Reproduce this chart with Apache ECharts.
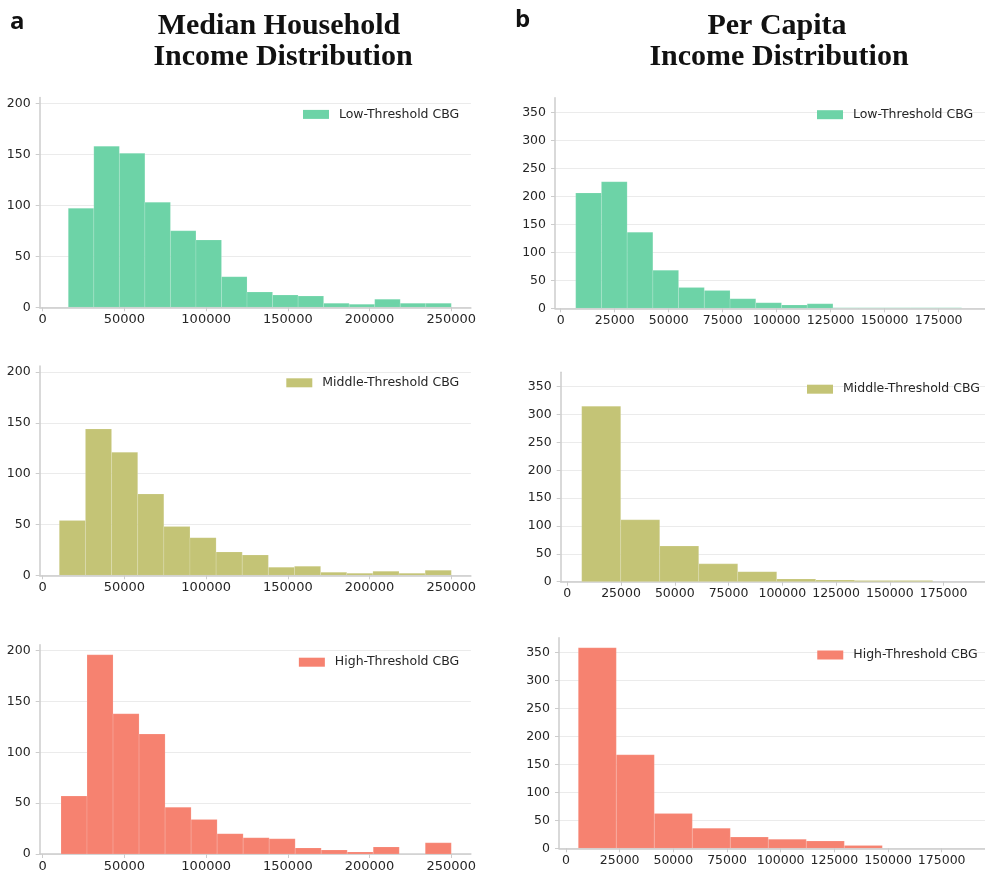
<!DOCTYPE html>
<html>
<head>
<meta charset="utf-8">
<script src="https://cdn.jsdelivr.net/npm/echarts@6/dist/echarts.min.js"></script>
<style>
html,body{margin:0;padding:0;background:#fff;}
#chart{width:985px;height:880px;}
</style>
</head>
<body>
<div id="chart"></div>
<script>
// ---- data ----
const seriesNames = ['Low-Threshold CBG', 'Middle-Threshold CBG', 'High-Threshold CBG'];
const seriesColors = ['#6dd3a7', '#c4c476', '#f68270'];

// Median household income histograms (bin start, bin width, counts)
const mhiLowStart = 15650,  mhiLowWidth = 15623;
const mhiLowCounts = [97, 158, 151, 103, 75, 66, 30, 15, 12, 11, 4, 3, 8, 4, 4];
const mhiMidStart = 10150,  mhiMidWidth = 15990;
const mhiMidCounts = [54, 144, 121, 80, 48, 37, 23, 20, 8, 9, 3, 2, 4, 2, 5];
const mhiHighStart = 11190, mhiHighWidth = 15920;
const mhiHighCounts = [57, 196, 138, 118, 46, 34, 20, 16, 15, 6, 4, 2, 7, 0, 11];

// Per capita income histograms
const pciLowStart = 6940,  pciLowWidth = 11910;
const pciLowCounts = [206, 226, 136, 68, 37, 32, 17, 10, 6, 8, 1, 1, 1, 1, 1];
const pciMidStart = 6700,  pciMidWidth = 18140;
const pciMidCounts = [315, 111, 64, 32, 18, 5, 3, 2, 2];
const pciHighStart = 5730, pciHighWidth = 17700;
const pciHighCounts = [358, 167, 62, 36, 20, 16, 13, 5];

// tick labels
const mhiXTicks = [0, 50000, 100000, 150000, 200000, 250000];
const pciXTicks = [0, 25000, 50000, 75000, 100000, 125000, 150000, 175000];
const mhiYTicks = [0, 50, 100, 150, 200];
const pciYTicks = [0, 50, 100, 150, 200, 250, 300, 350];

// titles
const titleA = ['Median Household', 'Income Distribution'];
const titleB = ['Per Capita', 'Income Distribution'];
const panelLetters = ['a', 'b'];

// ---- build ----
function bins(start, width, counts) {
  return counts.map((c, i) => [start + i * width, start + (i + 1) * width, c]);
}

const panels = [
  {data: bins(mhiLowStart, mhiLowWidth, mhiLowCounts), s: 0, left: 39.7, top: 97.4, w: 431.2, h: 209.9, xmin: -1842, xmax: 261992, ymax: 205.8, xt: mhiXTicks, yt: mhiYTicks, xfs: 13, legRight: 525.7, legTop: 107.4},
  {data: bins(mhiMidStart, mhiMidWidth, mhiMidCounts), s: 1, left: 39.7, top: 366.1, w: 431.2, h: 209.2, xmin: -1842, xmax: 261992, ymax: 205.8, xt: mhiXTicks, yt: mhiYTicks, xfs: 13, legRight: 525.7, legTop: 375.8},
  {data: bins(mhiHighStart, mhiHighWidth, mhiHighCounts), s: 2, left: 39.7, top: 644.8, w: 431.2, h: 209.2, xmin: -1842, xmax: 261992, ymax: 205.8, xt: mhiXTicks, yt: mhiYTicks, xfs: 13, legRight: 525.7, legTop: 655.2},
  {data: bins(pciLowStart, pciLowWidth, pciLowCounts), s: 0, left: 555, top: 97.7, w: 430, h: 210.6, xmin: -2640, xmax: 196440, ymax: 376, xt: pciXTicks, yt: pciYTicks, xfs: 12.5, legRight: 11.7, legTop: 107.7},
  {data: bins(pciMidStart, pciMidWidth, pciMidCounts), s: 1, left: 560.7, top: 372.2, w: 424.3, h: 209.5, xmin: -3070, xmax: 194280, ymax: 376, xt: pciXTicks, yt: pciYTicks, xfs: 12.5, legRight: 5, legTop: 382.2},
  {data: bins(pciHighStart, pciHighWidth, pciHighCounts), s: 2, left: 559, top: 637.7, w: 426, h: 210.6, xmin: -3260, xmax: 195160, ymax: 376, xt: pciXTicks, yt: pciYTicks, xfs: 12.5, legRight: 7.3, legTop: 648}
];

const axisColor = '#cccccc';
const labelColor = '#262626';
const tickFont = 'DejaVu Sans';
const plain = v => String(Math.round(v));

const grid = [], xAxis = [], yAxis = [], series = [], legend = [];
panels.forEach((p, i) => {
  grid.push({left: p.left, top: p.top, width: p.w, height: p.h, containLabel: false, outerBoundsMode: 'none'});
  xAxis.push({
    type: 'value', gridIndex: i, min: p.xmin, max: p.xmax,
    axisLine: {show: true, onZero: false, lineStyle: {color: axisColor, width: 1.5}},
    axisTick: {show: true, length: 4, lineStyle: {color: axisColor, width: 1}, customValues: p.xt},
    axisLabel: {show: true, customValues: p.xt, formatter: plain, color: labelColor, fontFamily: tickFont, fontSize: p.xfs, margin: 6, hideOverlap: false},
    splitLine: {show: false}
  });
  yAxis.push({
    type: 'value', gridIndex: i, min: 0, max: p.ymax,
    axisLine: {show: true, onZero: false, lineStyle: {color: axisColor, width: 1.5}},
    axisTick: {show: true, length: 4, lineStyle: {color: axisColor, width: 1}, customValues: p.yt},
    axisLabel: {show: true, customValues: p.yt, formatter: plain, color: labelColor, fontFamily: tickFont, fontSize: 12.5, margin: 9, hideOverlap: false},
    splitLine: {show: true, lineStyle: {color: '#ebebeb', width: 1}}
  });
  const color = seriesColors[p.s];
  series.push({
    type: 'custom', name: seriesNames[p.s], xAxisIndex: i, yAxisIndex: i,
    clip: true,
    itemStyle: {color: color},
    encode: {x: [0, 1], y: 2},
    data: p.data,
    renderItem: function (params, api) {
      const x0 = api.value(0), x1 = api.value(1), c = api.value(2);
      const a = api.coord([x0, 0]);
      const b = api.coord([x1, c]);
      return {
        type: 'rect',
        shape: {x: a[0], y: b[1], width: b[0] - a[0], height: a[1] - b[1]},
        style: {fill: color, stroke: 'rgba(255,255,255,0.14)', lineWidth: 1}
      };
    }
  });
  legend.push({
    right: p.legRight, top: p.legTop, padding: 0, orient: 'horizontal',
    data: [{name: seriesNames[p.s], icon: 'rect', itemStyle: {color: color}}],
    itemWidth: 26, itemHeight: 9, selectedMode: false,
    textStyle: {color: labelColor, fontFamily: tickFont, fontSize: 12.5, lineHeight: 14, padding: [0, 0, 0, 5]}
  });
});

const titleFont = 'bold 30px "Liberation Serif", "Times New Roman", serif';
const letterFont = 'bold 24px "Open Sans", "DejaVu Sans", sans-serif';
const tstyle = (text, font, align) => ({text, font, fill: '#111', align, verticalAlign: 'middle', textAlign: align, textVerticalAlign: 'middle'});
const graphic = [
  {type: 'text', x: 279, y: 25.8, style: tstyle(titleA[0], titleFont, 'center')},
  {type: 'text', x: 283, y: 56.8, style: tstyle(titleA[1], titleFont, 'center')},
  {type: 'text', x: 777, y: 25.8, style: tstyle(titleB[0], titleFont, 'center')},
  {type: 'text', x: 779, y: 56.8, style: tstyle(titleB[1], titleFont, 'center')},
  {type: 'text', x: 10, y: 22.5, style: tstyle(panelLetters[0], letterFont, 'left')},
  {type: 'text', x: 515, y: 20.5, style: tstyle(panelLetters[1], letterFont, 'left')}
];

const chart = echarts.init(document.getElementById('chart'), null, {renderer: 'canvas'});
chart.setOption({
  animation: false,
  backgroundColor: '#ffffff',
  grid, xAxis, yAxis, series, legend, graphic
});
</script>
</body>
</html>
